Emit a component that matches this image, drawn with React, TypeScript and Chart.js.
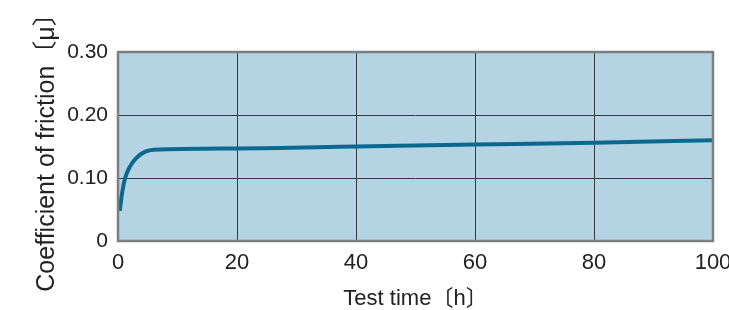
import React, { useEffect, useRef } from "react";
import { Chart, registerables } from "chart.js";

Chart.register(...registerables);

const timeH = [0.3, 0.7, 1.2, 2, 3.1, 4.5, 6, 20, 40, 60, 80, 100];
const mu = [0.048, 0.077, 0.1, 0.118, 0.132, 0.1415, 0.145, 0.147, 0.15, 0.153, 0.156, 0.16];
const xTitle = "Test time〔h〕";
const yTitle = "Coefficient of friction〔μ〕";

const FONT = "'Liberation Sans', Arial, 'Noto Sans CJK JP', sans-serif";

const areaPlugin = {
  id: "area",
  beforeDraw(chart: any) {
    const { ctx, chartArea: a } = chart;
    ctx.save();
    ctx.fillStyle = "#b4d4e3";
    ctx.fillRect(a.left, a.top, a.right - a.left, a.bottom - a.top);
    ctx.restore();
  },
  afterDraw(chart: any) {
    const { ctx, chartArea: a } = chart;
    ctx.save();
    ctx.strokeStyle = "#7b7f82";
    ctx.lineWidth = 2.5;
    ctx.strokeRect(a.left, a.top, a.right - a.left, a.bottom - a.top);
    ctx.restore();
  },
};

export default function App() {
  const ref = useRef<HTMLCanvasElement>(null);
  useEffect(() => {
    document.body.style.margin = "0";
    const chart = new Chart(ref.current!, {
      type: "line",
      data: {
        datasets: [
          {
            data: timeH.map((t, i) => ({ x: t, y: mu[i] })),
            borderColor: "#0d6890",
            borderWidth: 4,
            pointRadius: 0,
            cubicInterpolationMode: "monotone",
            fill: false,
          },
        ],
      },
      options: {
        animation: false,
        responsive: false,
        layout: { padding: { left: 0, top: 52, right: 16, bottom: 0 } },
        plugins: { legend: { display: false }, tooltip: { enabled: false } },
        scales: {
          x: {
            type: "linear",
            min: 0,
            max: 100,
            ticks: {
              stepSize: 20,
              padding: 9,
              color: "#222",
              font: { family: FONT, size: 22 },
              maxRotation: 0,
            },
            grid: { color: "#3a3a3a", lineWidth: 1, drawTicks: false },
            border: { display: false },
            title: {
              display: true,
              text: xTitle,
              color: "#222",
              font: { family: FONT, size: 22 },
              padding: { top: 0, bottom: -2 },
            },
            afterFit(scale: any) {
              scale.height = 69;
              scale.paddingLeft = 0;
              scale.paddingRight = 0;
            },
          },
          y: {
            min: 0,
            max: 0.3,
            ticks: {
              stepSize: 0.1,
              padding: 10,
              color: "#222",
              font: { family: FONT, size: 21 },
              callback: (v: any) => (Number(v) === 0 ? "0" : Number(v).toFixed(2)),
            },
            grid: { color: "#3a3a3a", lineWidth: 1, drawTicks: false },
            border: { display: false },
            title: {
              display: true,
              text: yTitle,
              color: "#222",
              font: { family: FONT, size: 25 },
              padding: { top: 32, bottom: 0 },
            },
            afterFit(scale: any) {
              scale.width = 118;
              scale.paddingTop = 0;
              scale.paddingBottom = 0;
            },
          },
        },
      },
      plugins: [areaPlugin],
    } as any);
    return () => chart.destroy();
  }, []);
  return <canvas ref={ref} width={729} height={310} style={{ display: "block" }} />;
}
